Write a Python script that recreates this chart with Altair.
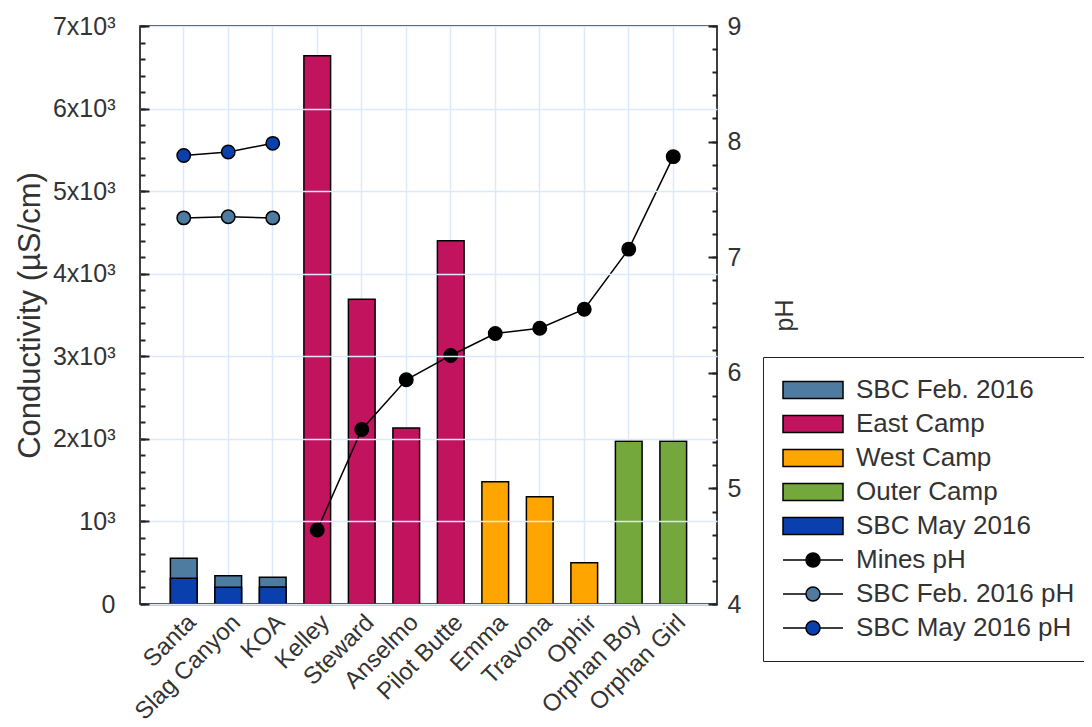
import altair as alt
import pandas as pd

# ---------------- data ----------------
sites = ["Santa", "Slag Canyon", "KOA", "Kelley", "Steward", "Anselmo",
         "Pilot Butte", "Emma", "Travona", "Ophir", "Orphan Boy", "Orphan Girl"]
bar_series = ["SBC Feb. 2016"] * 3 + ["East Camp"] * 4 + ["West Camp"] * 3 + ["Outer Camp"] * 2
conductivity = [555, 342, 325, 6640, 3690, 2130, 4400, 1480, 1300, 500, 1970, 1970]

sbc_sites = ["Santa", "Slag Canyon", "KOA"]
sbc_may_cond = [311, 202, 205]
sbc_feb_ph = [7.34, 7.35, 7.34]
sbc_may_ph = [7.88, 7.91, 7.985]

mines_sites = ["Kelley", "Steward", "Anselmo", "Pilot Butte", "Emma",
               "Travona", "Ophir", "Orphan Boy", "Orphan Girl"]
mines_ph = [4.64, 5.51, 5.94, 6.15, 6.34, 6.385, 6.55, 7.07, 7.87]

series_names = ["SBC Feb. 2016", "East Camp", "West Camp", "Outer Camp", "SBC May 2016",
                "Mines pH", "SBC Feb. 2016 pH", "SBC May 2016 pH"]
series_colors = ["#4e7ca0", "#c2135f", "#ffa500", "#74a83c", "#0a3fae",
                 "#000000", "#4e7ca0", "#0a3fae"]

left_major = list(range(0, 7001, 1000))
left_minor = list(range(0, 7001, 200))
right_major = [4, 5, 6, 7, 8, 9]
right_minor = [round(4 + 0.2 * i, 1) for i in range(26)]

# ---------------- tables ----------------
bars_df = pd.DataFrame({
    "site": sites + sbc_sites,
    "series": bar_series + ["SBC May 2016"] * 3,
    "cond": conductivity + sbc_may_cond,
    "order": list(range(len(sites) + 3)),
})
ph_df = pd.DataFrame({
    "site": mines_sites + sbc_sites + sbc_sites,
    "series": ["Mines pH"] * len(mines_sites) + ["SBC Feb. 2016 pH"] * 3 + ["SBC May 2016 pH"] * 3,
    "ph": mines_ph + sbc_feb_ph + sbc_may_ph,
})

# ---------------- encodings ----------------
TEXT = "#333333"
GRID = "#dce9fb"
TICK = "#222222"

x_enc = alt.X(
    "site:N", sort=sites, title=None,
    scale=alt.Scale(domain=sites, paddingInner=0.4, paddingOuter=0.683),
    axis=alt.Axis(labelAngle=315, labelFontSize=24, labelColor=TEXT, ticks=False,
                  labelPadding=6, domainColor="black", domainWidth=1.5,
                  grid=True, gridColor=GRID, gridWidth=1.5, labelLimit=300),
)

rect_path = "M-3,-0.85H3V0.85H-3Z"
lc_path = "M-3,0H-0.7M0.7,0H3M0.7,0A0.7,0.7,0,1,1,-0.7,0A0.7,0.7,0,1,1,0.7,0Z"
shape_expr = ("indexof(['Mines pH','SBC Feb. 2016 pH','SBC May 2016 pH'], datum.label) >= 0 ? '"
              + lc_path + "' : '" + rect_path + "'")

legend = alt.Legend(
    title=None, orient="none", legendX=623, legendY=331,
    symbolType=alt.ExprRef(shape_expr), symbolSize=400, symbolOffset=17,
    symbolStrokeColor="black", symbolStrokeWidth=1.5, symbolOpacity=1,
    labelOffset=30, labelFontSize=26, labelColor=TEXT, labelLimit=400,
    rowPadding=8, padding=20, strokeColor="#222222", fillColor="white",
)
fill_enc = alt.Fill("series:N", scale=alt.Scale(domain=series_names, range=series_colors),
                    legend=legend)

left_scale = alt.Scale(domain=[0, 7000], nice=False)
right_scale = alt.Scale(domain=[4, 9], nice=False, zero=False)

left_axis = alt.Axis(
    orient="left", values=left_major, title="Conductivity (µS/cm)", titleFontSize=31,
    titleFontWeight="normal", titleColor=TEXT, titlePadding=6,
    labelExpr=("datum.value === 0 ? '0' : datum.value === 1000 ? '10³' : "
               "(datum.value/1000) + 'x10³'"),
    labelFontSize=25, labelColor=TEXT, labelOverlap=False, labelPadding=25,
    ticks=True, tickSize=9, offset=-9, tickColor=TICK, tickWidth=2, domain=False,
    grid=True, gridColor=GRID, gridWidth=1.5, zindex=2,
)
left_minor_axis = alt.Axis(
    orient="left", values=left_minor, title=None, labels=False, domain=False, grid=False,
    ticks=True, tickSize=5, offset=-5, tickColor=TICK, tickWidth=2, zindex=2,
)

right_axis = alt.Axis(
    orient="right", values=right_major, title="pH", titleFontSize=25,
    titleFontWeight="normal", titleColor=TEXT, titleAngle=270, titlePadding=57,
    labelFontSize=25, labelColor=TEXT, labelOverlap=False, labelPadding=10,
    ticks=True, tickSize=9, offset=-9, tickColor=TICK, tickWidth=2, domain=False, grid=False,
    zindex=2,
)
right_minor_axis = alt.Axis(
    orient="right", values=right_minor, title=None, labels=False, domain=False, grid=False,
    ticks=True, tickSize=5, offset=-5, tickColor=TICK, tickWidth=2, zindex=2,
)

bars = alt.Chart(bars_df).mark_bar(stroke="black", strokeWidth=1.5, opacity=1).encode(
    x=x_enc,
    y=alt.Y("cond:Q", stack=None, scale=left_scale, axis=left_axis),
    fill=fill_enc,
    order=alt.Order("order:Q"),
)
bars_minor = alt.Chart(bars_df).mark_bar(opacity=0).encode(
    x=x_enc,
    y=alt.Y("cond:Q", stack=None, scale=left_scale, axis=left_minor_axis),
)

lines = alt.Chart(ph_df).mark_line(color="black", strokeWidth=1.5).encode(
    x=x_enc,
    y=alt.Y("ph:Q", scale=right_scale, axis=right_minor_axis),
    detail="series:N",
)
points = alt.Chart(ph_df).mark_point(filled=True, size=180, stroke="black",
                                     strokeWidth=1.5, opacity=1).encode(
    x=x_enc,
    y=alt.Y("ph:Q", scale=right_scale, axis=right_axis),
    fill=fill_enc,
)

left_group = alt.layer(bars_minor, bars).resolve_axis(y="independent")
right_group = alt.layer(lines, points).resolve_axis(y="independent")

chart = alt.layer(left_group, right_group).resolve_scale(y="independent").properties(
    width=577, height=578,
    autosize=alt.AutoSizeParams(type="none"),
    padding={"left": 132, "top": 18, "right": 367, "bottom": 115},
).configure(font="Liberation Sans").configure_view(stroke="black", strokeWidth=1.5)

chart.save("out.html", embed_options={"renderer": "svg", "actions": False})
